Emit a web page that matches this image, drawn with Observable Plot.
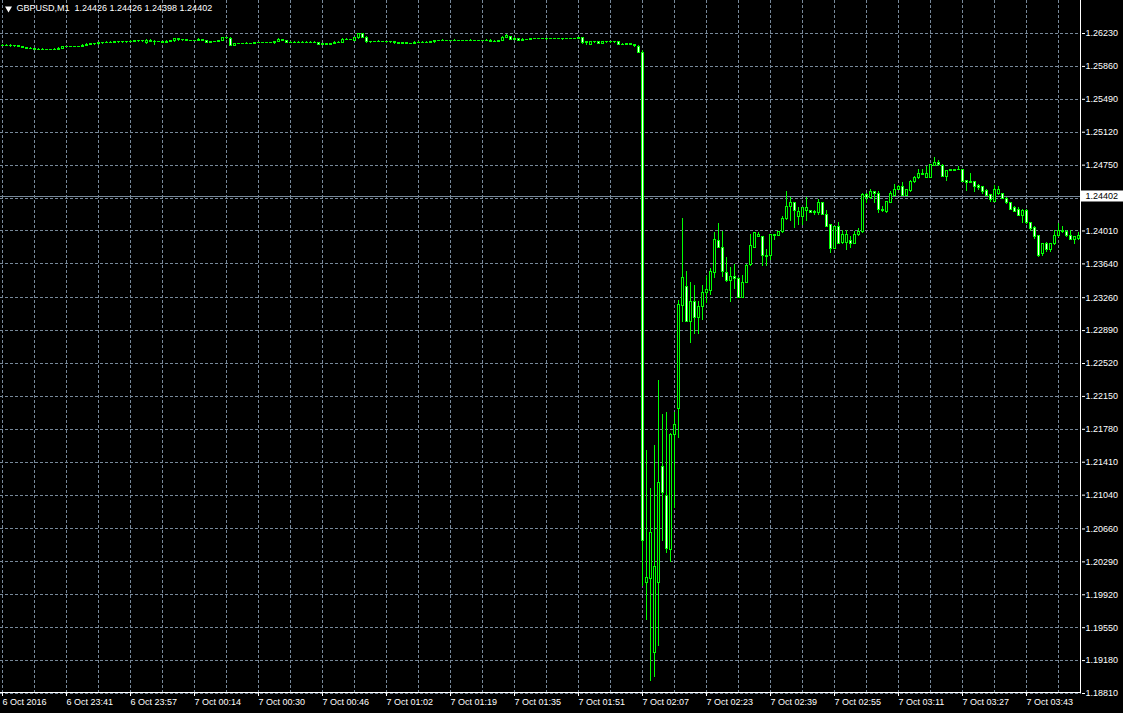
<!DOCTYPE html>
<html><head><meta charset="utf-8">
<script src="https://cdn.jsdelivr.net/npm/d3@7"></script>
<script src="https://cdn.jsdelivr.net/npm/@observablehq/plot@0.6"></script>
<style>
html,body{margin:0;padding:0;background:#000;overflow:hidden}
#chart svg{display:block}
</style></head><body><div id="chart"></div>
<script>
// ---- data (GBPUSD M1, one bar per minute) ----
const symbol = "GBPUSD,M1";
const headerOHLC = [1.24426, 1.24426, 1.24398, 1.24402];
const bid = 1.24402;

const opens = [
1.26095,1.26090,1.26095,1.26084,1.26084,1.26078,1.26067,1.26061,1.26056,1.26050,
1.26050,1.26047,1.26047,1.26047,1.26050,1.26061,1.26076,1.26076,1.26078,1.26076,
1.26078,1.26095,1.26106,1.26110,1.26110,1.26118,1.26123,1.26126,1.26126,1.26129,
1.26129,1.26129,1.26131,1.26140,1.26143,1.26143,1.26118,1.26151,1.26140,1.26135,
1.26132,1.26121,1.26140,1.26143,1.26163,1.26155,1.26155,1.26148,1.26148,1.26148,
1.26159,1.26151,1.26126,1.26132,1.26137,1.26148,1.26182,1.26168,1.26092,1.26114,
1.26114,1.26114,1.26114,1.26114,1.26121,1.26121,1.26121,1.26121,1.26129,1.26137,
1.26159,1.26148,1.26126,1.26126,1.26126,1.26126,1.26126,1.26126,1.26126,1.26121,
1.26106,1.26110,1.26103,1.26114,1.26126,1.26121,1.26159,1.26159,1.26151,1.26174,
1.26219,1.26185,1.26129,1.26137,1.26137,1.26137,1.26137,1.26129,1.26129,1.26118,
1.26114,1.26121,1.26114,1.26114,1.26126,1.26126,1.26126,1.26126,1.26129,1.26148,
1.26148,1.26148,1.26148,1.26148,1.26148,1.26148,1.26148,1.26148,1.26148,1.26148,
1.26148,1.26148,1.26151,1.26132,1.26134,1.26148,1.26182,1.26193,1.26155,1.26163,
1.26151,1.26159,1.26155,1.26166,1.26166,1.26166,1.26166,1.26166,1.26166,1.26166,
1.26166,1.26166,1.26166,1.26166,1.26166,1.26174,1.26118,1.26099,1.26137,1.26129,
1.26114,1.26129,1.26129,1.26129,1.26129,1.26106,1.26106,1.26114,1.26099,1.26080,
1.26016,1.20047,1.20092,1.19260,1.20047,1.21351,1.21025,1.20418,1.21711,1.22003,
1.23172,1.23375,1.22992,1.23217,1.23037,1.23150,1.23307,1.23330,1.23543,1.23892,
1.23824,1.23532,1.23442,1.23487,1.23465,1.23262,1.23420,1.23622,1.23824,1.23937,
1.23937,1.23734,1.23723,1.23970,1.23948,1.24004,1.24139,1.24274,1.24319,1.24162,
1.24162,1.24229,1.24240,1.24218,1.24207,1.24330,1.24195,1.24072,1.23802,1.24049,
1.23880,1.23880,1.23892,1.23869,1.23970,1.23993,1.24409,1.24386,1.24443,1.24420,
1.24251,1.24218,1.24330,1.24398,1.24476,1.24499,1.24398,1.24454,1.24555,1.24600,
1.24634,1.24611,1.24611,1.24746,1.24769,1.24746,1.24622,1.24679,1.24679,1.24701,
1.24701,1.24577,1.24544,1.24566,1.24510,1.24499,1.24454,1.24409,1.24341,1.24420,
1.24431,1.24375,1.24330,1.24263,1.24251,1.24173,1.24229,1.24105,1.24038,1.23948,
1.23746,1.23869,1.23791,1.23858,1.23948,1.24015,1.24004,1.23959,1.23903,1.23925];

const highs = [
1.26101,1.26101,1.26097,1.26088,1.26086,1.26080,1.26070,1.26065,1.26058,1.26054,
1.26052,1.26050,1.26050,1.26054,1.26065,1.26080,1.26080,1.26082,1.26080,1.26082,
1.26099,1.26110,1.26112,1.26114,1.26121,1.26126,1.26129,1.26129,1.26132,1.26132,
1.26134,1.26134,1.26143,1.26146,1.26146,1.26148,1.26155,1.26155,1.26145,1.26137,
1.26134,1.26143,1.26146,1.26166,1.26166,1.26159,1.26157,1.26151,1.26151,1.26163,
1.26161,1.26151,1.26134,1.26134,1.26148,1.26185,1.26185,1.26174,1.26117,1.26117,
1.26117,1.26118,1.26117,1.26121,1.26123,1.26126,1.26123,1.26126,1.26132,1.26163,
1.26161,1.26151,1.26129,1.26131,1.26129,1.26132,1.26129,1.26129,1.26129,1.26123,
1.26112,1.26112,1.26117,1.26129,1.26129,1.26163,1.26163,1.26161,1.26177,1.26226,
1.26224,1.26188,1.26140,1.26140,1.26143,1.26140,1.26140,1.26132,1.26131,1.26120,
1.26126,1.26123,1.26117,1.26129,1.26129,1.26131,1.26129,1.26129,1.26151,1.26151,
1.26153,1.26151,1.26151,1.26153,1.26151,1.26151,1.26151,1.26153,1.26151,1.26151,
1.26151,1.26159,1.26155,1.26143,1.26151,1.26188,1.26208,1.26196,1.26174,1.26166,
1.26163,1.26161,1.26168,1.26170,1.26168,1.26170,1.26168,1.26170,1.26168,1.26170,
1.26168,1.26170,1.26168,1.26170,1.26177,1.26177,1.26140,1.26140,1.26140,1.26131,
1.26131,1.26132,1.26132,1.26132,1.26131,1.26110,1.26117,1.26117,1.26101,1.26084,
1.26028,1.21531,1.21104,1.21598,1.22318,1.21936,1.21969,1.21733,1.21969,1.23228,
1.24139,1.23554,1.23420,1.23386,1.23206,1.23386,1.23498,1.23588,1.23982,1.24083,
1.23993,1.23701,1.23599,1.23622,1.23476,1.23509,1.23622,1.23970,1.23982,1.23982,
1.23937,1.23791,1.23970,1.23970,1.24004,1.24162,1.24443,1.24386,1.24319,1.24263,
1.24263,1.24386,1.24240,1.24240,1.24353,1.24330,1.24229,1.24072,1.24049,1.24094,
1.24015,1.24015,1.23937,1.23993,1.24027,1.24431,1.24431,1.24465,1.24443,1.24443,
1.24274,1.24341,1.24443,1.24532,1.24521,1.24544,1.24465,1.24577,1.24622,1.24690,
1.24690,1.24724,1.24757,1.24825,1.24802,1.24757,1.24679,1.24701,1.24701,1.24724,
1.24701,1.24577,1.24656,1.24566,1.24532,1.24499,1.24465,1.24409,1.24521,1.24499,
1.24431,1.24386,1.24330,1.24274,1.24263,1.24251,1.24251,1.24105,1.24049,1.23948,
1.23869,1.23880,1.23869,1.24015,1.24083,1.24049,1.24015,1.24015,1.23937,1.23982];

const lows = [
1.26084,1.26088,1.26080,1.26080,1.26073,1.26063,1.26058,1.26052,1.26045,1.26045,
1.26043,1.26043,1.26041,1.26045,1.26047,1.26058,1.26073,1.26073,1.26073,1.26073,
1.26076,1.26092,1.26103,1.26106,1.26106,1.26114,1.26121,1.26121,1.26123,1.26126,
1.26126,1.26126,1.26129,1.26137,1.26140,1.26140,1.26114,1.26136,1.26106,1.26129,
1.26121,1.26118,1.26137,1.26140,1.26151,1.26151,1.26145,1.26145,1.26145,1.26145,
1.26148,1.26123,1.26123,1.26129,1.26134,1.26145,1.26168,1.26090,1.26090,1.26110,
1.26112,1.26110,1.26112,1.26112,1.26118,1.26118,1.26118,1.26118,1.26114,1.26134,
1.26148,1.26123,1.26123,1.26123,1.26123,1.26123,1.26121,1.26123,1.26121,1.26103,
1.26103,1.26099,1.26101,1.26112,1.26123,1.26118,1.26155,1.26155,1.26148,1.26170,
1.26179,1.26126,1.26126,1.26134,1.26134,1.26132,1.26126,1.26126,1.26112,1.26110,
1.26112,1.26110,1.26110,1.26112,1.26123,1.26123,1.26123,1.26121,1.26126,1.26145,
1.26145,1.26145,1.26143,1.26145,1.26145,1.26143,1.26145,1.26145,1.26145,1.26145,
1.26145,1.26143,1.26129,1.26129,1.26132,1.26145,1.26179,1.26152,1.26152,1.26148,
1.26148,1.26152,1.26152,1.26163,1.26163,1.26163,1.26161,1.26163,1.26163,1.26163,
1.26161,1.26163,1.26163,1.26163,1.26163,1.26115,1.26099,1.26097,1.26126,1.26110,
1.26112,1.26126,1.26126,1.26126,1.26103,1.26103,1.26103,1.26097,1.26082,1.26013,
1.20024,1.19631,1.18956,1.18990,1.19339,1.20530,1.20384,1.20283,1.20901,1.21688,
1.22981,1.22981,1.22745,1.22857,1.22857,1.23004,1.23195,1.23285,1.23476,1.23813,
1.23487,1.23431,1.23217,1.23363,1.23262,1.23262,1.23420,1.23611,1.23813,1.23937,
1.23611,1.23611,1.23678,1.23903,1.23948,1.23982,1.24128,1.24117,1.24038,1.24072,
1.24072,1.24117,1.24207,1.24184,1.24195,1.24195,1.24060,1.23757,1.23802,1.23869,
1.23869,1.23791,1.23813,1.23869,1.23959,1.23982,1.24330,1.24375,1.24330,1.24207,
1.24218,1.24207,1.24330,1.24398,1.24465,1.24398,1.24398,1.24443,1.24544,1.24589,
1.24634,1.24611,1.24600,1.24735,1.24746,1.24622,1.24577,1.24679,1.24679,1.24701,
1.24566,1.24454,1.24544,1.24443,1.24465,1.24431,1.24398,1.24341,1.24341,1.24409,
1.24364,1.24308,1.24251,1.24218,1.24173,1.24105,1.24083,1.24015,1.23925,1.23712,
1.23734,1.23768,1.23779,1.23847,1.23937,1.23982,1.23937,1.23903,1.23858,1.23914];

const closes = [
1.26090,1.26095,1.26084,1.26084,1.26078,1.26067,1.26061,1.26056,1.26050,1.26050,
1.26047,1.26047,1.26047,1.26050,1.26061,1.26076,1.26076,1.26078,1.26076,1.26078,
1.26095,1.26106,1.26110,1.26110,1.26118,1.26123,1.26126,1.26126,1.26129,1.26129,
1.26129,1.26131,1.26140,1.26143,1.26143,1.26143,1.26151,1.26140,1.26135,1.26132,
1.26123,1.26140,1.26143,1.26163,1.26155,1.26155,1.26148,1.26148,1.26148,1.26159,
1.26151,1.26126,1.26132,1.26132,1.26145,1.26182,1.26174,1.26092,1.26114,1.26114,
1.26114,1.26114,1.26114,1.26121,1.26121,1.26121,1.26121,1.26121,1.26126,1.26159,
1.26151,1.26126,1.26126,1.26126,1.26126,1.26126,1.26126,1.26126,1.26126,1.26106,
1.26110,1.26103,1.26114,1.26126,1.26126,1.26159,1.26159,1.26159,1.26174,1.26222,
1.26182,1.26129,1.26137,1.26137,1.26137,1.26137,1.26129,1.26129,1.26118,1.26114,
1.26121,1.26114,1.26114,1.26126,1.26126,1.26126,1.26126,1.26129,1.26148,1.26148,
1.26148,1.26148,1.26148,1.26148,1.26148,1.26148,1.26148,1.26148,1.26148,1.26148,
1.26148,1.26151,1.26132,1.26134,1.26148,1.26185,1.26204,1.26155,1.26163,1.26151,
1.26159,1.26155,1.26166,1.26166,1.26166,1.26166,1.26166,1.26166,1.26166,1.26166,
1.26166,1.26166,1.26166,1.26166,1.26174,1.26118,1.26137,1.26137,1.26129,1.26114,
1.26129,1.26129,1.26129,1.26129,1.26106,1.26106,1.26114,1.26099,1.26084,1.26016,
1.20530,1.20114,1.20609,1.20227,1.21171,1.21059,1.20440,1.21711,1.21823,1.23183,
1.23476,1.22992,1.23206,1.23037,1.23150,1.23307,1.23341,1.23554,1.23903,1.23813,
1.23554,1.23442,1.23487,1.23465,1.23262,1.23420,1.23611,1.23836,1.23982,1.23970,
1.23723,1.23712,1.23970,1.23948,1.24004,1.24139,1.24285,1.24330,1.24229,1.24218,
1.24263,1.24263,1.24207,1.24207,1.24330,1.24195,1.24060,1.23802,1.24049,1.23869,
1.23970,1.23970,1.23869,1.23970,1.24004,1.24409,1.24386,1.24443,1.24420,1.24251,
1.24229,1.24341,1.24420,1.24476,1.24499,1.24398,1.24465,1.24566,1.24600,1.24645,
1.24656,1.24656,1.24757,1.24769,1.24757,1.24622,1.24679,1.24690,1.24701,1.24701,
1.24566,1.24544,1.24566,1.24499,1.24488,1.24443,1.24398,1.24353,1.24476,1.24476,
1.24364,1.24319,1.24251,1.24218,1.24173,1.24229,1.24094,1.24027,1.23937,1.23734,
1.23869,1.23791,1.23858,1.23959,1.24015,1.24004,1.23948,1.23903,1.23937,1.23959];

// time-axis labels, one every 16 bars starting at bar 0
const timeLabels = ["6 Oct 2016","6 Oct 23:41","6 Oct 23:57","7 Oct 00:14","7 Oct 00:30",
  "7 Oct 00:46","7 Oct 01:02","7 Oct 01:19","7 Oct 01:35","7 Oct 01:51","7 Oct 02:07",
  "7 Oct 02:23","7 Oct 02:39","7 Oct 02:55","7 Oct 03:11","7 Oct 03:27","7 Oct 03:43"];
const labelEvery = 16;
const gridEvery = 8;

// price-axis grid values (1.24380 is hidden behind the bid label)
const priceTicks = [1.26230,1.25860,1.25490,1.25120,1.24750,1.24380,1.24010,1.23640,1.23260,
  1.22890,1.22520,1.22150,1.21780,1.21410,1.21040,1.20660,1.20290,1.19920,1.19550,1.19180,1.18810];
const hiddenTicks = [1.24380];
const priceTop = 1.26601;   // price at the top edge of the chart window
const priceBottom = 1.18810;

// ---- build ----
const bars = opens.map((o, i) => ({i, o, h: highs[i], l: lows[i], c: closes[i]}));
const n = bars.length;
const xDomain = [-0.5, n - 0.25];
const labelBars = timeLabels.map((_, k) => k * labelEvery);
const gridBars = d3.range(0, n, gridEvery);
const labelTicks = priceTicks.filter(t => !hiddenTicks.includes(t));

const LIME = "#00ff00", GRID = "#778899", FONT = "Liberation Sans, Arial, sans-serif";
const crisp = {shapeRendering: "crispEdges"};
// rects get no automatic half-pixel offset, so shift them onto whole pixels
const px = {dx: 0.5, ...crisp};

const chart = Plot.plot({
  width: 1123, height: 713,
  marginLeft: 0, marginRight: 42, marginTop: 0, marginBottom: 20,
  style: {background: "#000", color: "#fff", fontFamily: FONT, fontSize: "9px", overflow: "visible"},
  x: {domain: xDomain, axis: null, label: null},
  y: {domain: [priceBottom, priceTop], axis: null, label: null},
  marks: [
    Plot.ruleY(priceTicks, {stroke: GRID, strokeDasharray: "3,2", ...crisp}),
    Plot.ruleX(gridBars, {stroke: GRID, strokeDasharray: "3,2", ...crisp}),
    Plot.ruleY([bid], {stroke: GRID, ...crisp}),
    // wicks (1 px)
    Plot.rect(bars, {x1: d => d.i - 0.125, x2: d => d.i + 0.125, y1: "l", y2: "h",
      insetTop: -0.5, insetBottom: -0.5, fill: LIME, ...px}),
    // body outline (3 px)
    Plot.rect(bars, {x1: d => d.i - 0.375, x2: d => d.i + 0.375, y1: "o", y2: "c",
      insetTop: -0.5, insetBottom: -0.5, fill: LIME, ...px}),
    // body interior: white = bear, black = bull
    Plot.rect(bars, {x1: d => d.i - 0.125, x2: d => d.i + 0.125, y1: "o", y2: "c",
      insetTop: 0.5, insetBottom: 0.5, fill: d => d.c < d.o ? "#ffffff" : "#000000", ...px}),
    // frame lines (right and bottom)
    Plot.ruleX([xDomain[1]], {stroke: "#fff", dx: -1, ...crisp}),
    Plot.ruleY([priceBottom], {stroke: "#fff", dy: -1, ...crisp}),
    // axes
    Plot.axisY(labelTicks, {anchor: "right", label: null, tickSize: 3, tickPadding: 1, tickFormat: d => d.toFixed(5),
      stroke: "#fff", fill: "#fff", fontSize: 9}),
    Plot.axisX(labelBars, {anchor: "bottom", label: null, tickSize: 3, tickPadding: 2, textAnchor: "start",
      tickFormat: i => timeLabels[i / labelEvery], stroke: "#fff", fill: "#fff", fontSize: 9}),
    // bid price label
    Plot.ruleY([bid], {x1: xDomain[1], x2: xDomain[1] + 11, stroke: "#fff", strokeWidth: 11}),
    Plot.text([bid], {x: xDomain[1], y: d => d, text: d => d.toFixed(5), textAnchor: "start", dx: 4,
      fill: "#000", fontSize: 9}),
    // header
    Plot.dot([0], {frameAnchor: "top-left", dx: 8, dy: 8, symbol: "triangle", r: 2.6, rotate: 180, fill: "#fff", stroke: null}),
    Plot.text([headerOHLC], {frameAnchor: "top-left", dx: 16, dy: 8, textAnchor: "start", lineAnchor: "middle",
      text: d => symbol + "\u00a0\u00a0" + d.map(v => v.toFixed(5)).join(" "), fill: "#fff", fontSize: 9})
  ]
});
document.getElementById("chart").appendChild(chart);
</script>
</body></html>
